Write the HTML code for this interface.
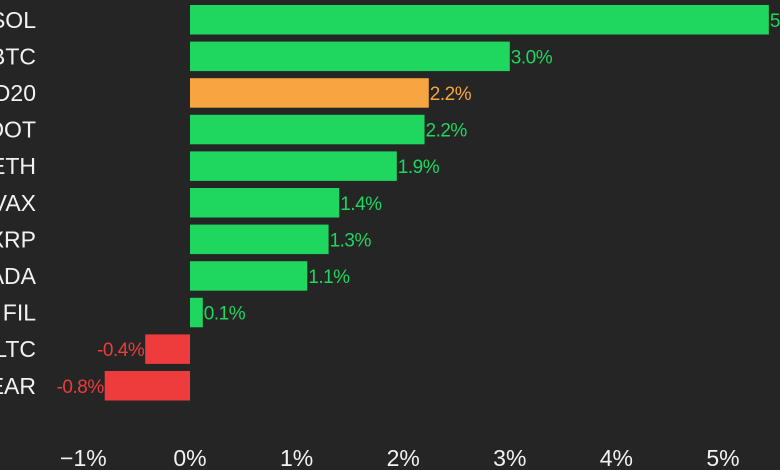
<!DOCTYPE html>
<html><head><meta charset="utf-8"><style>
html,body{margin:0;padding:0;background:#252525;}
svg{display:block;font-family:"Liberation Sans",sans-serif;}
</style></head><body>
<svg id="chart" width="780" height="470" viewBox="0 0 780 470">
<rect width="780" height="470" fill="#252525"/>
</svg>
<script>
const categories = ["SOL","BTC","CD20","DOT","ETH","AVAX","XRP","ADA","FIL","LTC","NEAR"];
const values = [5.43,3.0,2.24,2.2,1.94,1.4,1.3,1.1,0.12,-0.42,-0.8];
const valueLabels = ["5.4%","3.0%","2.2%","2.2%","1.9%","1.4%","1.3%","1.1%","0.1%","-0.4%","-0.8%"];
const highlight = ["CD20"];
const ticks = [-1,0,1,2,3,4,5];
const tickLabels = ["\u22121%","0%","1%","2%","3%","4%","5%"];

const svg = document.getElementById('chart');
const NS = 'http://www.w3.org/2000/svg';
const x = v => 190 + v * 106.6;
const yTop = i => 5 + i * 36.6;
const barH = 29.5;
function mk(tag, attrs){const e=document.createElementNS(NS,tag);for(const k in attrs)e.setAttribute(k,attrs[k]);svg.appendChild(e);return e;}

categories.forEach((c,i)=>{
  const v = values[i];
  const col = highlight.includes(c) ? '#f7a541' : (v>=0 ? '#1fd65f' : '#ee3b3b');
  const r = mk('rect',{x:Math.min(x(0),x(v)),y:yTop(i),width:Math.abs(x(v)-x(0)),height:barH,fill:col});
  
  
  const t = mk('text',{x:36,y:yTop(i)+barH/2+8,'text-anchor':'end',fill:'#f2f2f2','font-size':23});
  t.textContent = c;
  
  
  const vl = mk('text',{x: v>=0 ? x(v)+1 : x(v)-1, y:yTop(i)+barH/2+7,'text-anchor': v>=0?'start':'end',fill:col,'font-size':19,'letter-spacing':'-0.5'});
  vl.textContent = valueLabels[i];
  
  
});

ticks.forEach((tk,i)=>{
  const t = mk('text',{x:x(tk),y:466,'text-anchor':'middle',fill:'#f2f2f2','font-size':23});
  t.textContent = tickLabels[i];
  
  
});
</script>
</body></html>
